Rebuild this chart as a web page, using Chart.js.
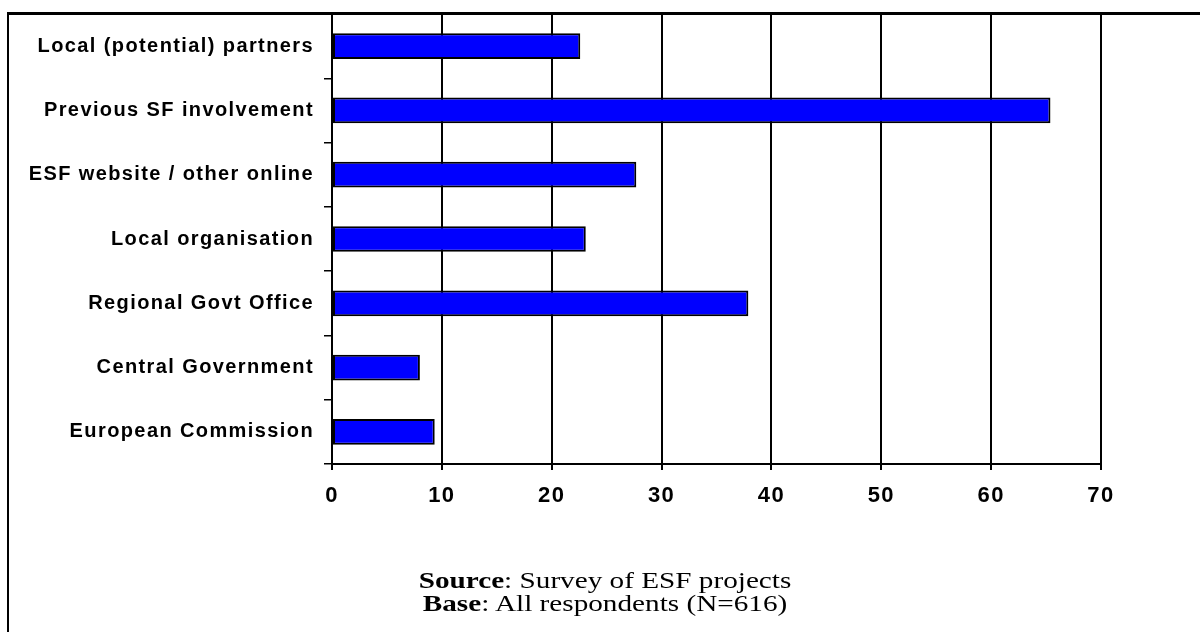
<!DOCTYPE html>
<html>
<head>
<meta charset="utf-8">
<script src="https://cdn.jsdelivr.net/npm/chart.js@4"></script>
<style>
  body { margin: 0; background: #fff; }
  #wrap { position: relative; width: 1200px; height: 632px; overflow: hidden; }
  #frame { position: absolute; left: 7px; top: 12px; width: 1200px; height: 700px;
           border-top: 3px solid #000; border-left: 2px solid #000; }
  #note { position: absolute; left: 405px; top: 569px; width: 400px; text-align: center;
          font-family: "Liberation Serif", "Times New Roman", serif; font-size: 23px;
          line-height: 23px; color: #000; transform: scaleX(1.27); transform-origin: 50% 0; }
</style>
</head>
<body>
<div id="wrap">
  <div id="frame"></div>
  <canvas id="sources" width="1200" height="632"></canvas>
  <div id="note"><b>Source</b>: Survey of ESF projects<br><b>Base</b>: All respondents (N=616)</div>
</div>
<script>
const categories = [
  "Local (potential) partners",
  "Previous SF involvement",
  "ESF website / other online",
  "Local organisation",
  "Regional Govt Office",
  "Central Government",
  "European Commission",
];
const percents = [22.6, 65.4, 27.7, 23.1, 37.9, 8.0, 9.35];
const xTicks = [0, 10, 20, 30, 40, 50, 60, 70];

// the reference text is a bit spread out
const spacing = {
  id: "spacing",
  beforeDraw: function (chart) {
    chart.ctx.letterSpacing = "1.4px";
  },
};

const sources = document.getElementById("sources");

new Chart(sources, {
  type: "bar",
  data: {
    labels: categories,
    datasets: [
      {
        data: percents,
        backgroundColor: "#0000ff",
        borderColor: "#000000",
        borderWidth: 2,
        borderSkipped: false,
        barPercentage: 0.4,
        categoryPercentage: 1,
      },
    ],
  },
  plugins: [spacing],
  options: {
    indexAxis: "y",
    responsive: false,
    animation: false,
    events: [],
    layout: {
      padding: { left: 0, top: 14, right: 99, bottom: 128 },
    },
    plugins: {
      legend: { display: false },
      tooltip: { enabled: false },
    },
    scales: {
      x: {
        min: 0,
        max: 70,
        afterBuildTicks: function (scale) {
          scale.ticks = xTicks.map(function (v) {
            return { value: v };
          });
        },
        afterFit: function (scale) {
          scale.height = 40;
          scale.paddingLeft = 0;
          scale.paddingRight = 0;
        },
        border: { color: "#000", width: 2 },
        grid: {
          color: "#000",
          lineWidth: 2,
          tickLength: 6,
        },
        ticks: {
          color: "#000",
          padding: 13,
          font: { family: "Liberation Sans, Arial", size: 22, weight: "bold" },
        },
      },
      y: {
        afterFit: function (scale) {
          scale.width = 332;
          scale.paddingTop = 0;
          scale.paddingBottom = 0;
        },
        border: { color: "#000", width: 2 },
        grid: {
          drawOnChartArea: false,
          color: "#000",
          lineWidth: 1.5,
          tickLength: 8,
        },
        ticks: {
          color: "#000",
          padding: 10,
          font: { family: "Liberation Sans, Arial", size: 20, weight: "bold" },
        },
      },
    },
  },
});
</script>
</body>
</html>
